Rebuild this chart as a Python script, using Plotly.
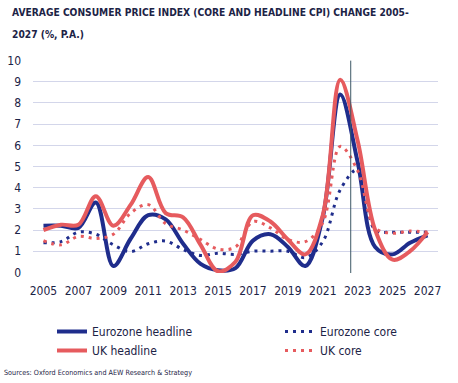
import plotly.graph_objects as go

years = list(range(2005, 2028))
ez_headline = [2.2, 2.2, 2.1, 3.3, 0.3, 1.6, 2.7, 2.5, 1.35, 0.4, 0.1, 0.2, 1.5, 1.8, 1.2, 0.3, 2.6, 8.4, 5.2, 1.2, 0.85, 1.4, 1.75]
ez_core = [1.4, 1.45, 1.9, 1.8, 1.3, 0.98, 1.35, 1.48, 1.08, 0.8, 0.9, 0.85, 1.0, 1.0, 1.0, 0.7, 1.45, 3.9, 4.85, 2.0, 1.9, 1.9, 1.9]
uk_headline = [2.0, 2.25, 2.25, 3.6, 2.2, 3.2, 4.5, 2.8, 2.6, 1.3, 0.05, 0.5, 2.7, 2.4, 1.55, 0.85, 2.7, 9.1, 6.2, 2.0, 0.6, 1.0, 1.9]
uk_core = [1.5, 1.3, 1.7, 1.6, 1.8, 2.8, 3.2, 2.3, 2.0, 1.55, 1.1, 1.2, 2.4, 2.1, 1.55, 1.45, 2.35, 5.95, 4.8, 2.1, 1.85, 1.95, 1.9]
x_ticks = list(range(2005, 2028, 2))
y_ticks = list(range(0, 11))
forecast_start = 2022.6
title_lines = ["AVERAGE CONSUMER PRICE INDEX (CORE AND HEADLINE CPI) CHANGE 2005-", "2027 (%, P.A.)"]
source_text = "Sources: Oxford Economics and AEW Research & Strategy"

NAVY = "#1f2d8c"
RED = "#e65b5e"
TEXT = "#1c2346"
FONT = "DejaVu Sans Condensed, sans-serif"

# plot area in pixels: x 33..438, y 60..273
PL, PR, PT, PB = 33, 438, 60, 273
def px(x):
    return (x - PL) / (PR - PL)
def py(y):
    return (PB - y) / (PB - PT)

fig = go.Figure()
fig.add_trace(go.Scatter(x=years, y=ez_headline, name="Eurozone headline", mode="lines", legend="legend",
                         line=dict(color=NAVY, width=4, shape="spline", smoothing=1)))
fig.add_trace(go.Scatter(x=years, y=ez_core, name="Eurozone core", mode="lines", legend="legend2",
                         line=dict(color=NAVY, width=3, dash="3px,5px", shape="spline", smoothing=1)))
fig.add_trace(go.Scatter(x=years, y=uk_headline, name="UK headline", mode="lines", legend="legend",
                         line=dict(color=RED, width=4, shape="spline", smoothing=1)))
fig.add_trace(go.Scatter(x=years, y=uk_core, name="UK core", mode="lines", legend="legend2",
                         line=dict(color=RED, width=3, dash="3px,5px", shape="spline", smoothing=1)))

fig.add_shape(type="line", x0=forecast_start, x1=forecast_start, y0=-0.33, y1=10,
              xref="x", yref="y", line=dict(color="#3d5866", width=1), layer="above")

legend_common = dict(orientation="v", xanchor="left", yanchor="top", traceorder="normal",
                     font=dict(family=FONT, size=12, color=TEXT), bgcolor="rgba(0,0,0,0)",
                     tracegroupgap=0)

fig.update_layout(
    width=458, height=383,
    margin=dict(l=PL, r=458 - PR, t=PT, b=383 - PB, autoexpand=False),
    paper_bgcolor="white", plot_bgcolor="white",
    font=dict(family=FONT, color=TEXT, size=12),
    xaxis=dict(range=[2004.4, 2027.6], tickmode="array", tickvals=x_ticks,
               ticktext=[str(t) for t in x_ticks], showgrid=False, zeroline=False,
               showline=False, ticks="", ticklabelstandoff=9,
               tickfont=dict(family=FONT, size=12, color=TEXT)),
    yaxis=dict(range=[-0.03, 10.03], tickmode="array", tickvals=y_ticks, showgrid=True,
               gridcolor="#d3d6ea", gridwidth=1, zeroline=False, showline=False, ticks="",
               ticklabelstandoff=11,
               tickfont=dict(family=FONT, size=12, color=TEXT)),
    legend=dict(x=px(52), y=py(317), **legend_common),
    legend2=dict(x=px(280), y=py(317), **legend_common),
    showlegend=True,
)

fig.add_annotation(text="<b>" + title_lines[0] + "</b>", xref="paper", yref="paper",
                   x=px(10), y=py(13), xanchor="left", yanchor="middle", showarrow=False,
                   font=dict(family=FONT, size=10.2, color=TEXT))
fig.add_annotation(text="<b>" + title_lines[1] + "</b>", xref="paper", yref="paper",
                   x=px(10), y=py(34), xanchor="left", yanchor="middle", showarrow=False,
                   font=dict(family=FONT, size=10.2, color=TEXT))

fig.add_annotation(text=source_text, xref="paper", yref="paper", x=px(2), y=py(372),
                   xanchor="left", yanchor="middle", showarrow=False,
                   font=dict(family=FONT, size=7.2, color=TEXT))

fig.write_html("out.html", config={"displayModeBar": False},
               post_script="document.body.style.margin='0';document.body.style.padding='0';")
